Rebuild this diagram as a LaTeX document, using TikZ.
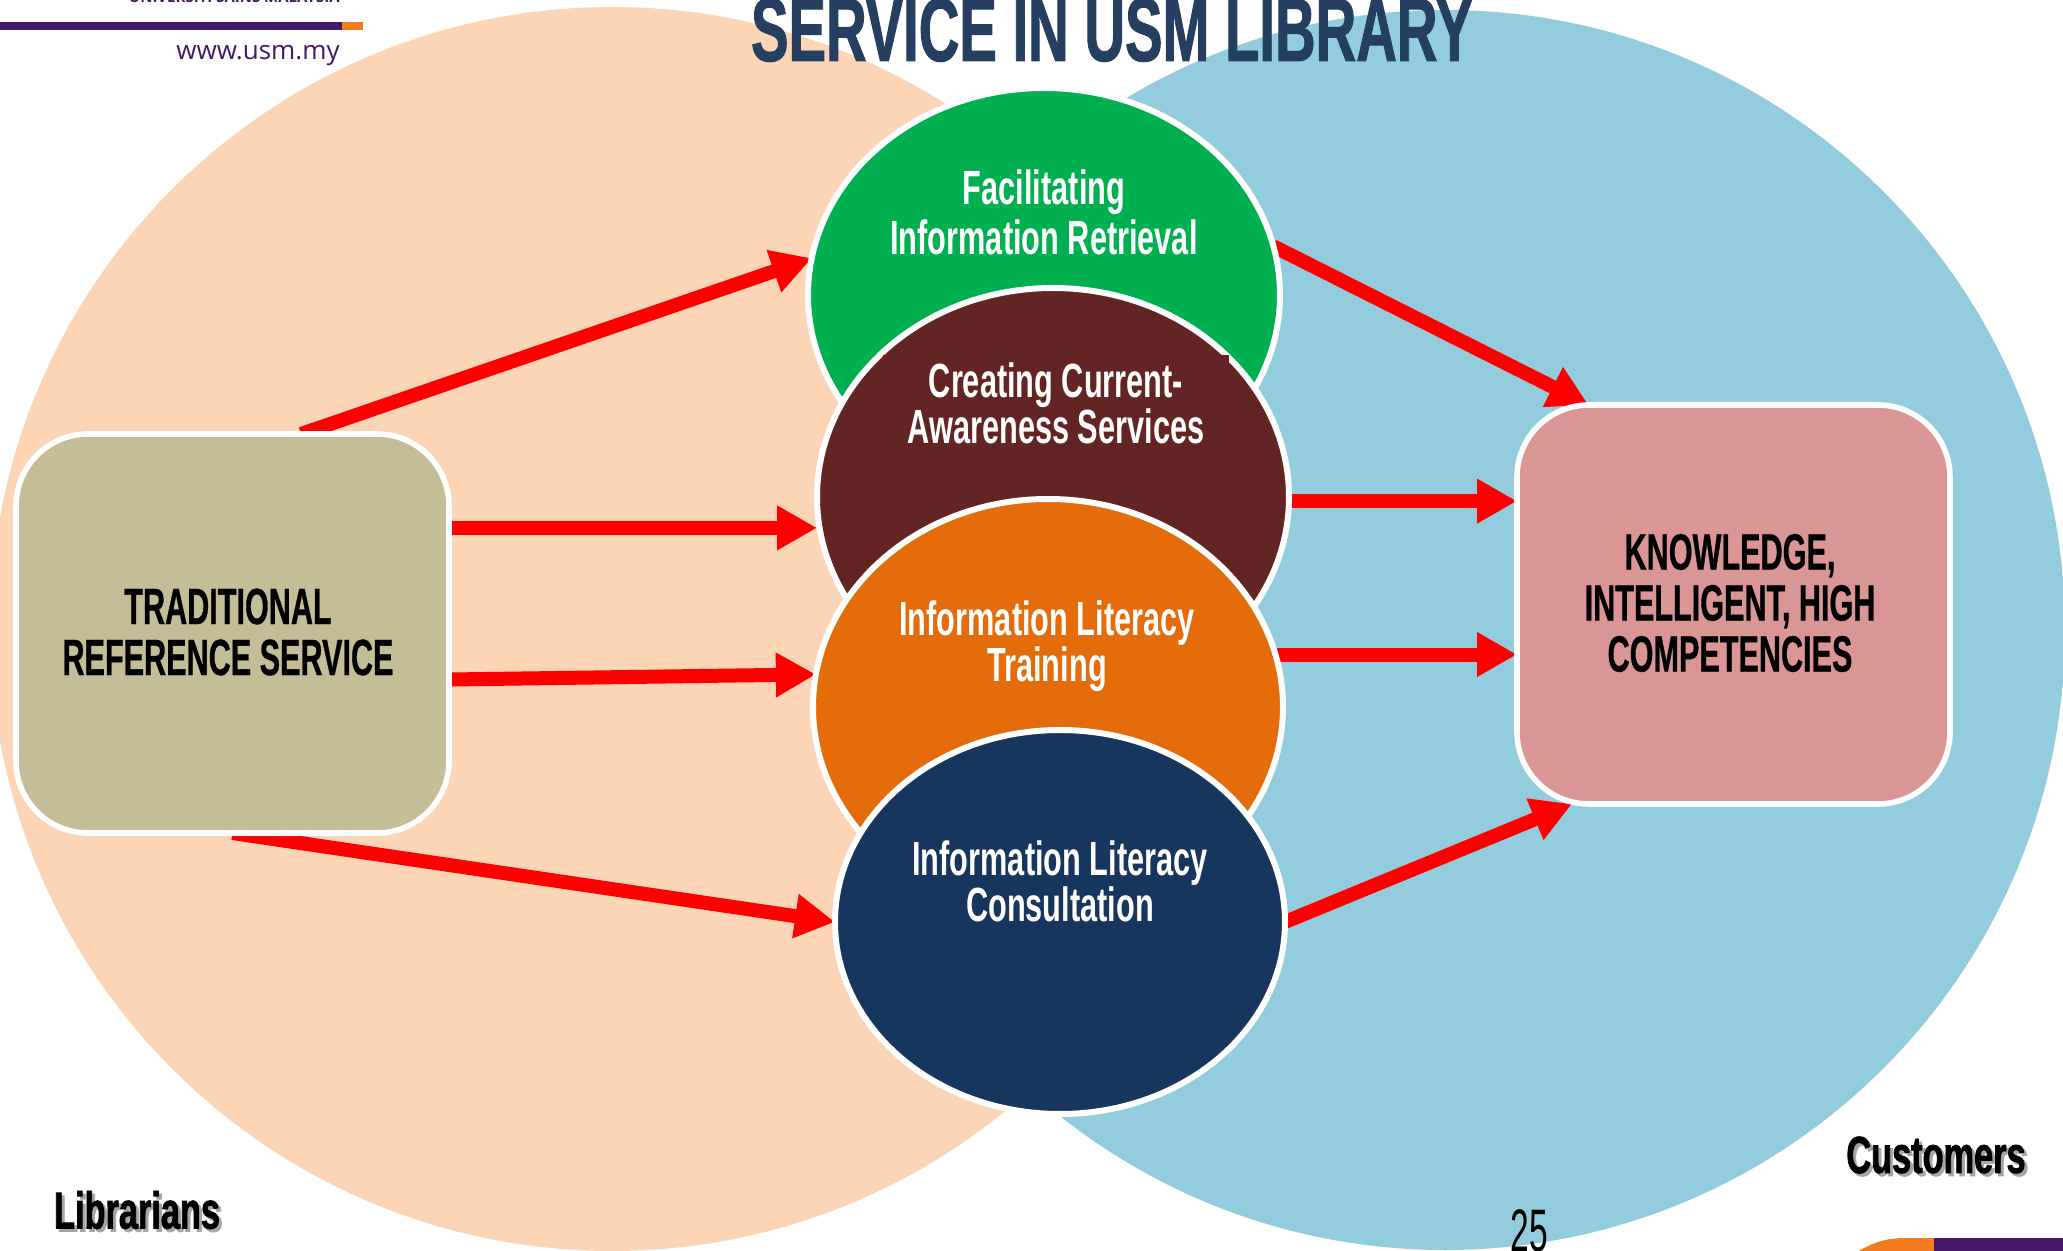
\documentclass[tikz,border=0pt]{standalone}
\usepackage{fontspec}
\usetikzlibrary{shapes.geometric,arrows.meta,backgrounds}
\newfontfamily\condf[FakeStretch=0.64]{Liberation Sans}
\newfontfamily\condk[FakeStretch=0.60,FakeBold=0.6]{Liberation Sans}
\newfontfamily\condl[FakeStretch=0.66,FakeBold=1.5]{Liberation Sans}
\newfontfamily\condt[FakeStretch=0.625,FakeBold=1]{Liberation Sans}
\newfontfamily\condp[FakeStretch=0.56]{Liberation Sans}
\newfontfamily\usmf{Open Sans}
\definecolor{peach}{HTML}{FBD5B5}
\definecolor{skyb}{HTML}{93CDDD}
\definecolor{cgreen}{HTML}{00B050}
\definecolor{cbrown}{HTML}{632523}
\definecolor{corange}{HTML}{E46C0A}
\definecolor{cnavy}{HTML}{17365D}
\definecolor{ckhaki}{HTML}{C4BD97}
\definecolor{cpink}{HTML}{D99694}
\definecolor{ctitle}{HTML}{243F60}
\definecolor{upurple}{HTML}{45186A}
\definecolor{uorange}{HTML}{F47B20}
\tikzset{
  bigcirc/.style={circle,inner sep=0pt,outer sep=0pt,minimum size=620pt},
  oval/.style={ellipse,draw=white,line width=3pt,inner sep=0pt,outer sep=0pt},
  bluebox/.style={rectangle,draw=white,line width=2.8pt,rounded corners=36pt,inner sep=0pt,outer sep=0pt,minimum width=216.5pt,minimum height=199.5pt},
  wtext/.style={text=white,align=center,inner sep=0pt,font=\condf\bfseries\fontsize{24}{23}\selectfont},
  ktext/.style={text=black,align=center,inner sep=0pt,font=\condk\bfseries\fontsize{25.5}{25.5}\selectfont},
  labeltext/.style={inner sep=0pt,font=\condl\bfseries\fontsize{26}{26}\selectfont},
  redarrow/.style={draw=red,line width=7pt,-{Triangle[length=20pt,width=21pt]}},
}
\begin{document}
\begin{tikzpicture}[x=0.5pt,y=-0.5pt]
\useasboundingbox (0,0) rectangle (2063,1251);
% main shapes
\node[oval,fill=cgreen,minimum width=236pt,minimum height=207pt] (green) at (1044,295) {};
\node[oval,fill=cbrown,minimum width=236pt,minimum height=209pt] (brown) at (1053,497) {};
\node[rectangle,fill=cbrown,minimum width=173pt,minimum height=62pt,inner sep=0pt] (browntextbox) at (1056,417) {};
\node[oval,fill=corange,minimum width=235pt,minimum height=208pt] (orange) at (1048,707) {};
\node[oval,fill=cnavy,minimum width=225pt,minimum height=192pt] (navy) at (1060,922) {};
\node[bluebox,fill=ckhaki] (lbox) at (232.5,633.5) {};
\node[bluebox,fill=cpink] (rbox) at (1733.5,604.5) {};
% texts
\node[wtext,font=\condf\bfseries\fontsize{24}{25}\selectfont] (t1) at (1044,212) {Facilitating\\Information Retrieval};
\node[wtext] (t2) at (1056,403) {Creating Current-\\Awareness Services};
\node[wtext] (t3) at (1047,646) {Information Literacy\\Training};
\node[wtext] (t4) at (1060,881) {Information Literacy\\Consultation};
\node[ktext] (t5) at (228,632) {TRADITIONAL\\REFERENCE SERVICE};
\node[ktext] (t6) at (1730,603) {KNOWLEDGE,\\INTELLIGENT, HIGH\\COMPETENCIES};
\node[labeltext,text=black!35,anchor=center] (libshadow) at (140,1213) {Librarians};
\node[labeltext,anchor=center] (lib) at (137,1210) {Librarians};
\node[labeltext,text=black!35,anchor=center] (cusshadow) at (1939,1158) {Customers};
\node[labeltext,anchor=center] (cus) at (1936,1155) {Customers};
\node[anchor=base,inner sep=0pt,font=\condp\fontsize{30}{30}\selectfont] (pg) at (1529,1251) {25};
\node[anchor=base,inner sep=0pt,text=ctitle,font=\condt\bfseries\fontsize{45}{45}\selectfont] (title) at (1112,61) {SERVICE IN USM LIBRARY};
\node[anchor=base east,inner sep=0pt,text=upurple,font=\usmf\fontsize{13}{13}\selectfont] (web) at (340,60) {www.usm.my};
\node[anchor=base east,inner sep=0pt,text=upurple,font=\usmf\bfseries\fontsize{7.5}{7.5}\selectfont] (univ) at (340,3) {UNIVERSITI SAINS MALAYSIA};
\begin{pgfonlayer}{background}
\fill[white] (0,0) rectangle (2063,1251);
\node[bigcirc,fill=skyb] (cuscirc) at (1445,630) {};
\node[bigcirc,fill=peach,minimum size=622pt] (libcirc) at (612,629) {};
\fill[upurple] (0,22) rectangle (342,30);
\fill[uorange] (342,22) rectangle (363,30);
\fill[uorange] (1859,1251) .. controls (1875,1241) and (1890,1238) .. (1905,1238) -- (1934,1238) -- (1934,1251) -- cycle;
\fill[upurple] (1934,1238) rectangle (2063,1251);
\draw[redarrow] (lbox.71) -- (green.171);
\draw[redarrow] (lbox.26.5) -- (brown.west |- lbox.26.5);
\draw[redarrow] (lbox.-12.8) -- (orange.172);
\draw[redarrow] (lbox.south) -- (navy.west);
\draw[redarrow] (green.12) -- (rbox.126);
\draw[redarrow] (brown.-1) -- (rbox.west |- brown.-1);
\draw[redarrow] (orange.13) -- (rbox.west |- orange.13);
\draw[redarrow] (navy.east) -- (rbox.-129);
\end{pgfonlayer}
\end{tikzpicture}
\end{document}
